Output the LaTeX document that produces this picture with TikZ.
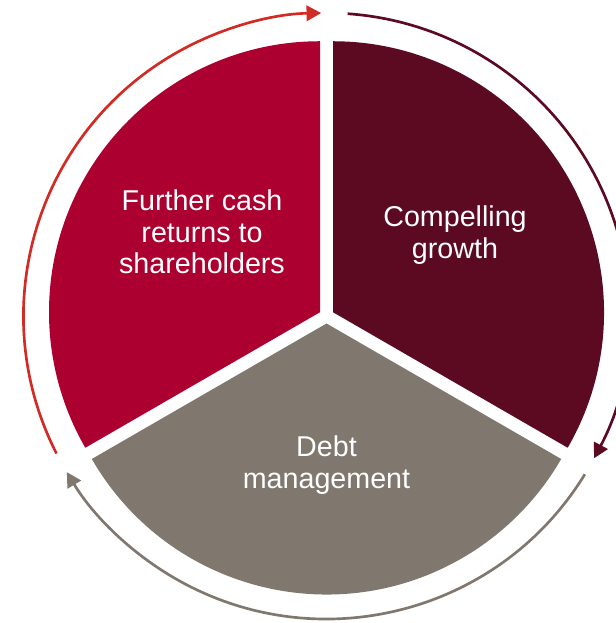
\documentclass[tikz,border=0pt]{standalone}
\usepackage{fontspec}
\setmainfont{Liberation Sans}
\usepackage{xcolor}
\usepackage{tikz}
\usetikzlibrary{calc, positioning, arrows.meta}

\definecolor{cashred}{HTML}{AC0030}
\definecolor{growthred}{HTML}{5B0A22}
\definecolor{debtgrey}{HTML}{80776E}
\definecolor{arrowred}{HTML}{D22B26}

\begin{document}
\begin{tikzpicture}[x=0.75pt, y=0.75pt,
    wedgelabel/.style={text=white, align=center, font=\fontsize{21.5pt}{23.6pt}\selectfont},
    cyclearrow/.style={line width=2pt, -{Triangle[length=11pt, width=11.5pt]}}]
        \useasboundingbox (0,0) rectangle (615,623);
        \coordinate (c) at (326.5,307);
        \coordinate (cashtip) at ($(c)+(150:7.5)$);
        \coordinate (growthtip) at ($(c)+(30:7.5)$);
        \coordinate (debttip) at ($(c)+(270:7.5)$);

        % wedges
        \fill[cashred] (cashtip) -- ($(cashtip)+(90:271)$) arc[start angle=90, end angle=210, radius=271] -- cycle;
        \fill[growthred] (growthtip) -- ($(growthtip)+(-30:271)$) arc[start angle=-30, end angle=90, radius=271] -- cycle;
        \fill[debtgrey] (debttip) -- ($(debttip)+(210:271)$) arc[start angle=210, end angle=330, radius=271] -- cycle;

        \node[wedgelabel] (cash) at (202,391) {Further cash\\returns to\\shareholders};
        \node[wedgelabel] (growth) at (455,388) {Compelling\\growth};
        \node[wedgelabel] (debt) at (326.5,158) {Debt\\management};

        % arrows round the pie
        \draw[cyclearrow, arrowred] ($(c)+(207:303)$) arc[start angle=207, end angle=91, radius=303];
        \draw[cyclearrow, growthred] ($(c)+(86:303)$) arc[start angle=86, end angle=-28, radius=303];
        \draw[cyclearrow, debtgrey] ($(c)+(-31.5:303)$) arc[start angle=-31.5, end angle=-149, radius=303];
    \end{tikzpicture}
\end{document}
